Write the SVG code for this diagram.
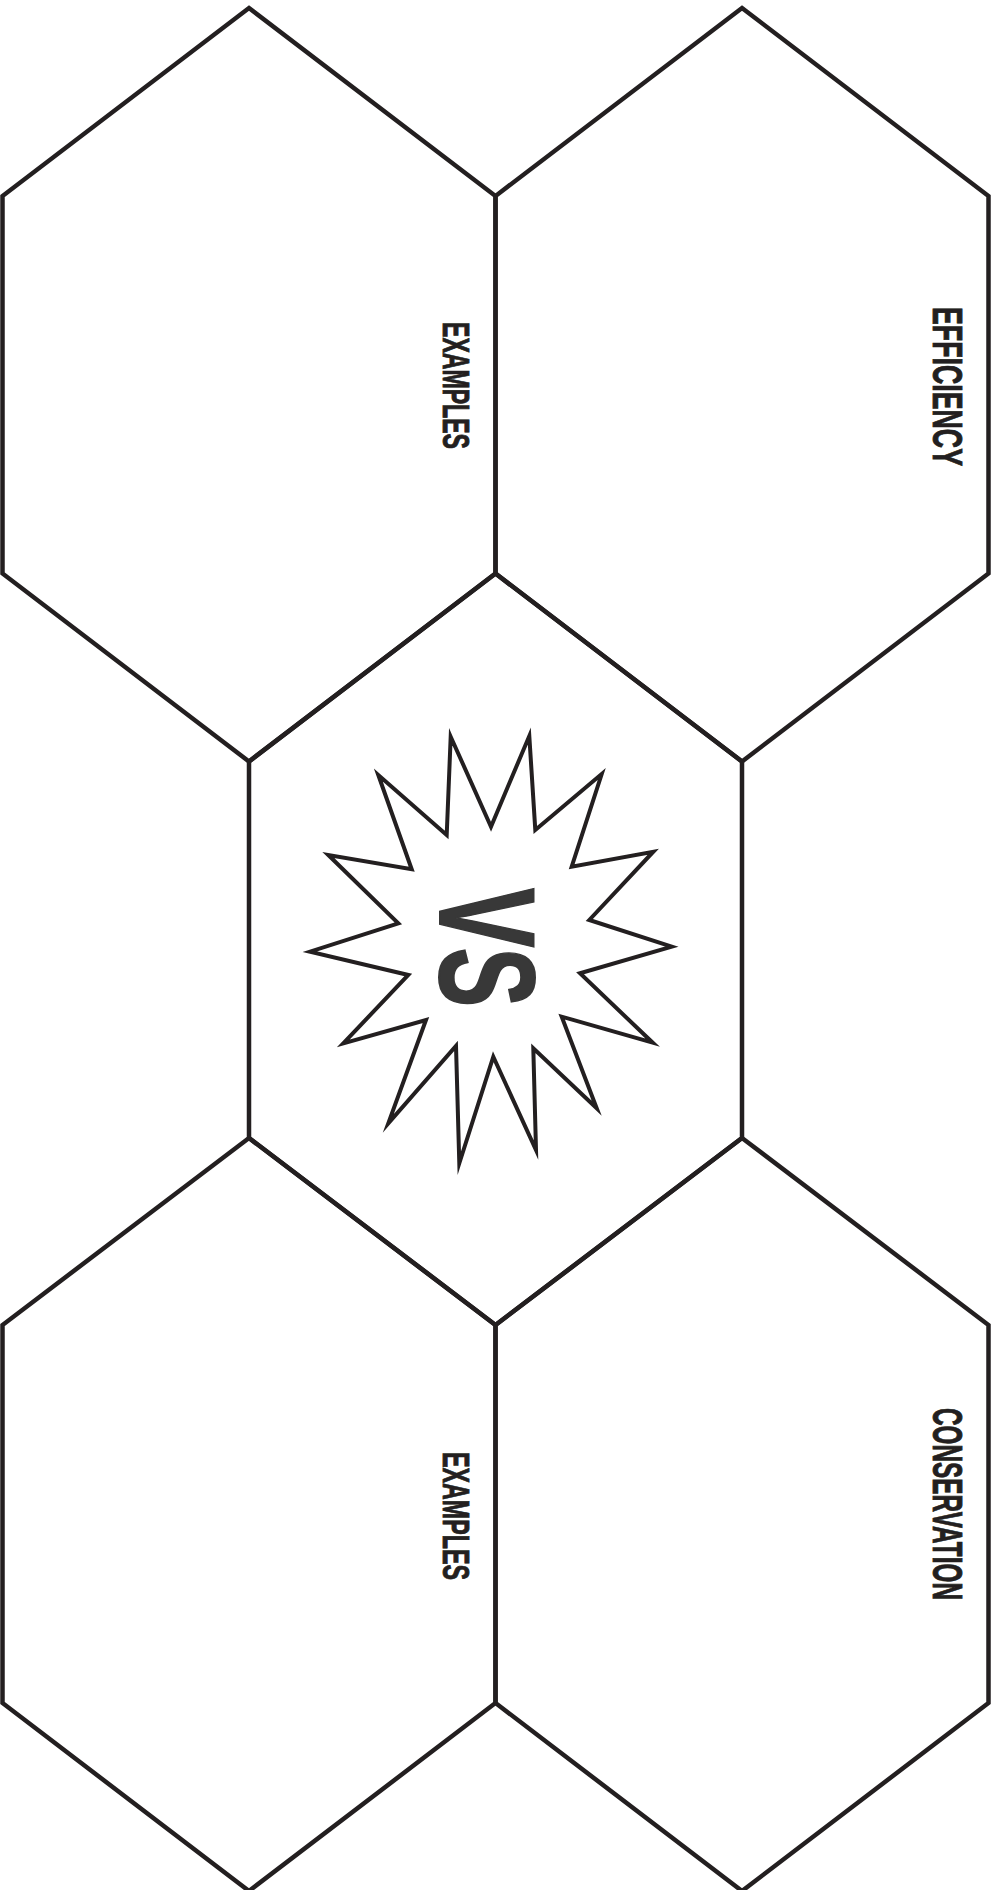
<svg xmlns="http://www.w3.org/2000/svg" width="997" height="1890" viewBox="0 0 997 1890">
<style>
.hex{fill:none;stroke:#231f20;stroke-width:4.5;stroke-linejoin:miter;stroke-miterlimit:10}
.star{fill:#ffffff;stroke:#231f20;stroke-width:4;stroke-linejoin:miter;stroke-miterlimit:10}
.lbl{font-family:"Liberation Sans",Arial,sans-serif;font-weight:bold;fill:#231f20;stroke:#231f20;stroke-width:0.9}
.vs{font-family:"Liberation Sans",Arial,sans-serif;font-weight:bold;fill:#383838;stroke:#383838;stroke-width:2}
</style>
<rect width="997" height="1890" fill="#ffffff"/>
<g id="hex-top-left">
<polygon class="hex" points="249,8 495.5,196 495.5,573.5 249,761.5 2.5,573.5 2.5,196"/>
<text class="lbl" font-size="36" textLength="127" lengthAdjust="spacingAndGlyphs" transform="translate(443,322) rotate(90)">EXAMPLES</text>
</g>
<g id="hex-top-right">
<polygon class="hex" points="742,8 988.5,196 988.5,573.5 742,761.5 495.5,573.5 495.5,196"/>
<text class="lbl" font-size="42" textLength="159" lengthAdjust="spacingAndGlyphs" transform="translate(933,307) rotate(90)">EFFICIENCY</text>
</g>
<g id="hex-center">
<polygon class="hex" points="495.5,573.5 742,761.5 742,1138 495.5,1325 249,1138 249,761.5"/>
<polygon class="star" points="450.7,736.7 491,826.7 529.3,736 535.3,830 601.7,774 571.7,866.7 653.3,851.7 589.3,920 671.7,946.7 580,973.3 652.7,1042.7 561.7,1016.7 596.7,1108.3 533.3,1048.3 536,1150 493.3,1056.7 459.3,1163.3 456,1046 388.3,1123.3 426,1020 343.3,1043.3 408.3,975 310,951.7 398.3,923.3 328.3,855 411.7,869.3 378.3,775 446.7,835"/>
<text class="vs" font-size="135" textLength="119" lengthAdjust="spacingAndGlyphs" transform="translate(440,888) rotate(90)">VS</text>
</g>
<g id="hex-bottom-left">
<polygon class="hex" points="249,1138 495.5,1325 495.5,1703 249,1891 2.5,1703 2.5,1325"/>
<text class="lbl" font-size="36" textLength="128" lengthAdjust="spacingAndGlyphs" transform="translate(443,1452) rotate(90)">EXAMPLES</text>
</g>
<g id="hex-bottom-right">
<polygon class="hex" points="742,1138 988.5,1325 988.5,1703 742,1891 495.5,1703 495.5,1325"/>
<text class="lbl" font-size="42" textLength="192" lengthAdjust="spacingAndGlyphs" transform="translate(933,1408) rotate(90)">CONSERVATION</text>
</g>
</svg>
